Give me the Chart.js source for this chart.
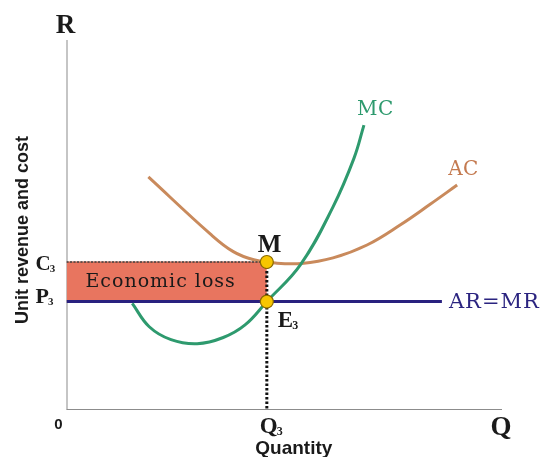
<!DOCTYPE html>
<html>
<head>
<meta charset="utf-8">
<script src="https://cdn.jsdelivr.net/npm/chart.js@4.4.1/dist/chart.umd.min.js"></script>
<style>
  body { margin: 0; background: #ffffff; }
  #wrap { width: 544px; height: 457px; position: relative; }
</style>
</head>
<body>
<div id="wrap"><canvas id="lossChart"></canvas></div>
<script>
// Curva de custo marginal (MC)
const mcQty  = [15.1, 19.0, 24.0, 30.0, 36.0, 41.0, 46.0, 53.7, 61.2, 66.0, 68.3];
const mcCost = [28.8, 22.5, 19.0, 17.9, 19.6, 23.0, 29.3, 39.2, 54.9, 68.0, 77.0];

// Curva de custo médio (AC)
const acQty  = [18.8, 33.0, 38.3, 43.0, 48.0, 54.0, 61.2, 69.0, 76.6, 83.5, 89.7];
const acCost = [63.0, 47.6, 42.8, 40.6, 39.7, 39.6, 41.1, 44.6, 50.0, 55.6, 60.8];

// Receita média = receita marginal (linha horizontal)
const arQty = [0, 86.2];

// Pontos principais
const q3 = 46.0;   // quantidade
const c3 = 40.0;   // custo médio em Q3 (ponto M)
const p3 = 29.3;   // preço (ponto E3)

const toPts = (xs, ys) => xs.map((v, i) => ({ x: v, y: ys[i] }));

// Escreve letra com índice "3"
function comIndice(ctx, main, sub, left, base, size) {
    ctx.textAlign = 'left';
    ctx.textBaseline = 'alphabetic';
    ctx.font = `bold ${size}px "Liberation Serif"`;
    ctx.fillText(main, left, base);
    const w = ctx.measureText(main).width;
    ctx.font = `bold ${Math.round(size * 0.5)}px "Liberation Serif"`;
    ctx.fillText(sub, left + w - 1, base + 2);
}

// Textos do gráfico
const rotulos = {
    id: 'rotulos',
    afterDatasetsDraw(chart) {
        const { ctx, scales: { x, y } } = chart;
        const x0 = x.getPixelForValue(0), y0 = y.getPixelForValue(0);
        const xq = x.getPixelForValue(q3);
        const yc = y.getPixelForValue(c3), yp = y.getPixelForValue(p3);
        ctx.save();
        ctx.fillStyle = '#1a1a1a';

        // eixos
        ctx.textAlign = 'center';
        ctx.textBaseline = 'alphabetic';
        ctx.font = 'bold 27px "Liberation Serif"';
        ctx.fillText('R', x0 - 1, y.getPixelForValue(100) - 7);
        ctx.fillText('Q', x.getPixelForValue(100) - 1, y0 + 25);
        ctx.font = 'bold 15px "Liberation Sans"';
        ctx.fillText('0', x0 - 8, y0 + 19);
        ctx.font = 'bold 19px "Liberation Sans"';
        ctx.fillText('Quantity', xq + 27, y0 + 44);
        ctx.save();
        ctx.translate(28, 230);
        ctx.rotate(-Math.PI / 2);
        ctx.font = 'bold 18px "Liberation Sans"';
        ctx.fillText('Unit revenue and cost', 0, 0);
        ctx.restore();

        comIndice(ctx, 'Q', '3', xq - 7, y0 + 23, 23);
        comIndice(ctx, 'C', '3', x0 - 31, yc + 7.5, 21);
        comIndice(ctx, 'P', '3', x0 - 31, yp + 1.5, 22);
        comIndice(ctx, 'M', '', xq - 9, yc - 10, 25);
        comIndice(ctx, 'E', '3', xq + 11, yp + 25, 23);

        // nome da área
        ctx.textAlign = 'center';
        ctx.textBaseline = 'middle';
        ctx.font = '19px "DejaVu Serif"';
        ctx.letterSpacing = '1px';
        ctx.fillText('Economic loss', (x0 + xq) / 2 - 6, (yc + yp) / 2);

        // nomes das curvas
        ctx.textAlign = 'left';
        ctx.letterSpacing = '0.5px';
        ctx.font = '20px "DejaVu Serif"';
        ctx.fillStyle = '#2e9a6e';
        const mcEnd = mcQty.length - 1;
        ctx.fillText('MC', x.getPixelForValue(mcQty[mcEnd]) - 7, y.getPixelForValue(mcCost[mcEnd]) - 15);
        ctx.fillStyle = '#c47a50';
        const acEnd = acQty.length - 1;
        ctx.fillText('AC', x.getPixelForValue(acQty[acEnd]) - 9, y.getPixelForValue(acCost[acEnd]) - 15);
        ctx.fillStyle = '#2b2480';
        ctx.font = '21px "DejaVu Serif"';
        ctx.letterSpacing = '1px';
        ctx.fillText('AR=MR', x.getPixelForValue(arQty[1]) + 7, yp + 1);
        ctx.restore();
    }
};

const ctx = document.getElementById('lossChart').getContext('2d');
new Chart(ctx, {
    type: 'scatter',
    data: {
        datasets: [
            {   // pontos M e E3
                data: [{ x: q3, y: c3 }, { x: q3, y: p3 }],
                pointRadius: 6.5,
                pointBackgroundColor: '#f7c600',
                pointBorderColor: '#8a6a00',
                pointBorderWidth: 1.2,
                order: 0
            },
            {   // linha pontilhada vertical em Q3
                data: [{ x: q3, y: c3 }, { x: q3, y: 0 }],
                showLine: true, pointRadius: 0,
                borderColor: '#111111', borderWidth: 3, borderDash: [2.5, 2],
                order: 1
            },
            {   // linha pontilhada em C3 (topo da área)
                data: [{ x: 0, y: c3 }, { x: q3, y: c3 }],
                showLine: true, pointRadius: 0,
                borderColor: '#444444', borderWidth: 1.5, borderDash: [2, 1.5],
                order: 1
            },
            {   // MC
                data: toPts(mcQty, mcCost),
                showLine: true, pointRadius: 0,
                borderColor: '#2e9a6e', borderWidth: 3,
                tension: 0.4,
                order: 2
            },
            {   // AC
                data: toPts(acQty, acCost),
                showLine: true, pointRadius: 0,
                borderColor: '#c98a5c', borderWidth: 3,
                tension: 0.4,
                order: 2
            },
            {   // AR = MR
                data: arQty.map(v => ({ x: v, y: p3 })),
                showLine: true, pointRadius: 0,
                borderColor: '#29217f', borderWidth: 3,
                order: 3
            },
            {   // área de prejuízo (topo)
                data: [{ x: 0, y: c3 }, { x: q3, y: c3 }],
                showLine: true, pointRadius: 0,
                borderColor: '#b9553f', borderWidth: 1,
                backgroundColor: '#e8755f',
                fill: '+1',
                order: 5
            },
            {   // área de prejuízo (base)
                data: [{ x: 0, y: p3 }, { x: q3, y: p3 }],
                showLine: true, pointRadius: 0,
                borderWidth: 0, borderColor: 'rgba(0,0,0,0)',
                order: 5
            },
            {   // eixo vertical
                data: [{ x: 0, y: 0 }, { x: 0, y: 100 }],
                showLine: true, pointRadius: 0,
                borderColor: '#8c8c8c', borderWidth: 2,
                order: 6
            },
            {   // eixo horizontal
                data: [{ x: 0, y: 0 }, { x: 100, y: 0 }],
                showLine: true, pointRadius: 0,
                borderColor: '#8c8c8c', borderWidth: 2,
                order: 6
            }
        ]
    },
    options: {
        responsive: true,
        maintainAspectRatio: false,
        animation: false,
        layout: { padding: { left: 66.5, right: 42, top: 40, bottom: 47 } },
        scales: {
            x: { type: 'linear', min: 0, max: 100, display: false },
            y: { type: 'linear', min: 0, max: 100, display: false }
        },
        plugins: {
            legend: { display: false },
            tooltip: { enabled: false }
        },
        elements: { line: { borderCapStyle: 'butt' } }
    },
    plugins: [rotulos]
});
</script>
</body>
</html>
